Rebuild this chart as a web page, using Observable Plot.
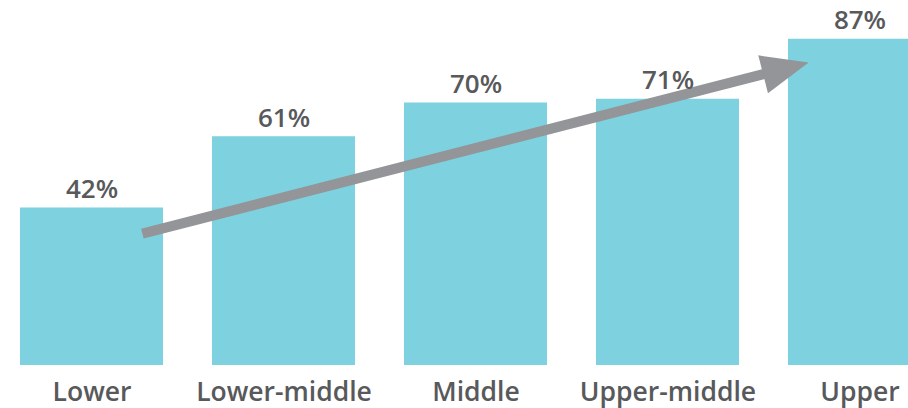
<!DOCTYPE html>
<html>
<head>
<meta charset="utf-8">
<script src="https://cdn.jsdelivr.net/npm/d3@7"></script>
<script src="https://cdn.jsdelivr.net/npm/@observablehq/plot@0.6"></script>
<style>
  html, body { margin: 0; padding: 0; background: #fff; }
  svg { display: block; }
</style>
</head>
<body>
<div id="chart"></div>
<script>
// Data
const categories = ["Lower", "Lower-middle", "Middle", "Upper-middle", "Upper"];
const values = [42, 61, 70, 71, 87];
const valueLabels = ["42%", "61%", "70%", "71%", "87%"];
// Trend arrow endpoints (category, value)
const arrowFrom = {cat: "Lower", value: 31.7};
const arrowTo = {cat: "Upper", value: 84.3};

const data = categories.map((c, i) => ({cat: c, value: values[i], label: valueLabels[i]}));

const barColor = "#7ed1de";
const arrowColor = "#939598";
const textColor = "#58595b";
const font = "'Open Sans', 'Noto Sans', sans-serif";

// elongated arrowhead pointing +x, tip offset back from the anchor point
const headSymbol = {
  draw(context) {
    const tip = -53;
    context.moveTo(tip, 0);
    context.lineTo(tip - 47, -19.5);
    context.lineTo(tip - 47, 19.5);
    context.closePath();
  }
};

const chart = Plot.plot({
  width: 908,
  height: 408,
  marginTop: 0,
  marginLeft: 0,
  marginRight: 0,
  marginBottom: 43,
  style: {fontFamily: font, background: "#fff", overflow: "visible"},
  x: {domain: categories, range: [20, 931], paddingInner: 0.255, paddingOuter: 0, round: false, axis: null},
  y: {domain: [0, 100], range: [365, -10], axis: null},
  marks: [
    Plot.barY(data, {x: "cat", y: "value", fill: barColor}),
    Plot.arrow([{a: arrowFrom, b: arrowTo}], {
      x1: d => d.a.cat, y1: d => d.a.value,
      x2: d => d.b.cat, y2: d => d.b.value,
      stroke: arrowColor, strokeWidth: 10, strokeLinecap: "butt", headLength: 0,
      insetStart: 52, insetEnd: 90
    }),
    Plot.dot([arrowTo], {
      x: "cat", y: "value", symbol: headSymbol, fill: arrowColor, stroke: "none",
      rotate: -14.4
    }),
    Plot.text(data, {
      x: "cat", y: "value", text: "label", lineAnchor: "bottom", dy: -10,
      fontSize: 26, fontWeight: 600, fill: textColor
    }),
    Plot.text(data, {
      x: "cat", y: 0, text: "cat", lineAnchor: "bottom", dy: 35,
      fontSize: 26.5, fontWeight: 600, fill: textColor
    })
  ]
});
document.getElementById("chart").appendChild(chart);
</script>
</body>
</html>
